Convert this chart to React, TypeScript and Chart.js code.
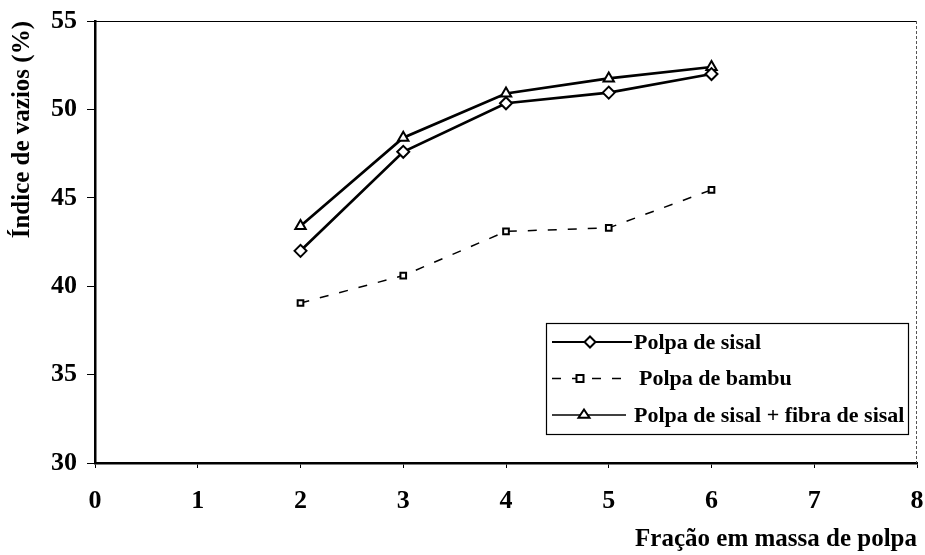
import React, { useEffect, useRef } from "react";
import { Chart, registerables } from "chart.js";

Chart.register(...registerables);

const fractions = [2, 3, 4, 5, 6];
const polpaSisal = [42.0, 47.6, 50.35, 50.95, 52.0];
const polpaBambu = [39.05, 40.6, 43.1, 43.3, 45.45];
const polpaSisalFibra = [43.4, 48.4, 50.9, 51.75, 52.4];
const seriesLabels = ["Polpa de sisal", "Polpa de bambu", "Polpa de sisal + fibra de sisal"];
const xTickValues = [0, 1, 2, 3, 4, 5, 6, 7, 8];
const yTickValues = [30, 35, 40, 45, 50, 55];
const xTitle = "Fração em massa de polpa";
const yTitle = "Índice de vazios (%)";

const SERIF = "'Liberation Serif', 'Times New Roman', serif";

function drawMarker(ctx: CanvasRenderingContext2D, style: string, x: number, y: number, r: number) {
  ctx.beginPath();
  if (style === "rectRot") {
    ctx.moveTo(x, y - r);
    ctx.lineTo(x + r, y);
    ctx.lineTo(x, y + r);
    ctx.lineTo(x - r, y);
    ctx.closePath();
  } else if (style === "rect") {
    ctx.rect(x - r, y - r, 2 * r, 2 * r);
  } else {
    const h = r * 1.5;
    ctx.moveTo(x, y - h * 0.66);
    ctx.lineTo(x + r, y + h * 0.34);
    ctx.lineTo(x - r, y + h * 0.34);
    ctx.closePath();
  }
  ctx.fillStyle = "#fff";
  ctx.fill();
  ctx.lineWidth = 2;
  ctx.setLineDash([]);
  ctx.strokeStyle = "#000";
  ctx.stroke();
}

const framePlugin = {
  id: "frameAndLegend",
  afterDraw(chart: any) {
    const ctx = chart.ctx as CanvasRenderingContext2D;
    const a = chart.chartArea;
    ctx.save();
    // top and right frame
    ctx.strokeStyle = "#000";
    ctx.lineWidth = 1.2;
    ctx.beginPath();
    ctx.moveTo(a.left, a.top + 0.5);
    ctx.lineTo(a.right, a.top + 0.5);
    ctx.stroke();
    ctx.strokeStyle = "#555";
    ctx.lineWidth = 1;
    ctx.setLineDash([3, 2]);
    ctx.beginPath();
    ctx.moveTo(a.right - 0.5, a.top);
    ctx.lineTo(a.right - 0.5, a.bottom);
    ctx.stroke();
    ctx.setLineDash([]);

    // legend box
    const right = a.right - 9;
    const bottom = a.bottom - 29;
    const width = 362;
    const height = 111;
    const left = right - width;
    const top = bottom - height;
    ctx.fillStyle = "#fff";
    ctx.fillRect(left, top, width, height);
    ctx.strokeStyle = "#000";
    ctx.lineWidth = 1.2;
    ctx.strokeRect(left + 0.5, top + 0.5, width, height);

    const rows = [top + 19, top + 55.5, top + 92];
    const lineStart = [left + 6, left + 6, left + 6];
    const lineEnd = [left + 86, left + 80, left + 80];
    const markerX = [left + 44, left + 34, left + 38];
    const textX = [left + 88, left + 93, left + 88];
    chart.data.datasets.forEach((ds: any, i: number) => {
      const cy = rows[i];
      ctx.strokeStyle = "#000";
      ctx.lineWidth = i === 0 ? 2 : 1.5;
      ctx.setLineDash(ds.borderDash || []);
      ctx.beginPath();
      ctx.moveTo(lineStart[i], cy);
      ctx.lineTo(lineEnd[i], cy);
      ctx.stroke();
      ctx.setLineDash([]);
      drawMarker(ctx, ds.pointStyle, markerX[i], cy, ds.pointStyle === "rect" ? 3.5 : 5.5);
      ctx.fillStyle = "#000";
      ctx.font = `bold 22px ${SERIF}`;
      ctx.textBaseline = "middle";
      ctx.textAlign = "left";
      ctx.fillText(ds.label, textX[i], cy + 1);
    });
    ctx.restore();
  },
};

export default function App() {
  const ref = useRef<HTMLCanvasElement | null>(null);

  useEffect(() => {
    if (!ref.current) return;
    const toPts = (arr: number[]) => fractions.map((x, i) => ({ x, y: arr[i] }));
    const chart = new Chart(ref.current, {
      type: "line",
      data: {
        datasets: [
          {
            label: seriesLabels[0],
            data: toPts(polpaSisal),
            borderColor: "#000",
            borderWidth: 2.7,
            pointStyle: "rectRot",
            pointRadius: 6,
            pointBackgroundColor: "#fff",
            pointBorderColor: "#000",
            pointBorderWidth: 2,
            tension: 0,
          },
          {
            label: seriesLabels[1],
            data: toPts(polpaBambu),
            borderColor: "#000",
            borderWidth: 1.5,
            borderDash: [9, 11],
            pointStyle: "rect",
            pointRadius: 4,
            pointBackgroundColor: "#fff",
            pointBorderColor: "#000",
            pointBorderWidth: 2,
            tension: 0,
          },
          {
            label: seriesLabels[2],
            data: toPts(polpaSisalFibra),
            borderColor: "#000",
            borderWidth: 2.7,
            pointStyle: "triangle",
            pointRadius: 6,
            pointBackgroundColor: "#fff",
            pointBorderColor: "#000",
            pointBorderWidth: 2,
            tension: 0,
          },
        ],
      },
      options: {
        responsive: false,
        animation: false,
        devicePixelRatio: 1,
        layout: { padding: { top: 21, right: 6, bottom: 0, left: 0 } },
        plugins: {
          legend: { display: false },
          tooltip: { enabled: false },
        },
        scales: {
          x: {
            type: "linear",
            min: 0,
            max: 8,
            afterBuildTicks: (s: any) => {
              s.ticks = xTickValues.map((v) => ({ value: v }));
            },
            afterFit: (s: any) => {
              s.height = 92;
              s.paddingRight = 0;
              s.paddingLeft = 0;
            },
            ticks: {
              color: "#000",
              padding: 18,
              font: { family: SERIF, size: 26, weight: "bold" },
            },
            grid: {
              drawOnChartArea: false,
              drawTicks: true,
              tickLength: 5,
              color: "#000",
            },
            border: { display: true, color: "#000", width: 2.5 },
            title: {
              display: true,
              text: xTitle,
              align: "end",
              color: "#000",
              padding: { top: 0, bottom: 0 },
              font: { family: SERIF, size: 25, weight: "bold" },
            },
          },
          y: {
            type: "linear",
            min: 30,
            max: 55,
            afterBuildTicks: (s: any) => {
              s.ticks = yTickValues.map((v) => ({ value: v }));
            },
            afterFit: (s: any) => {
              s.width = 95;
              s.paddingTop = 0;
              s.paddingBottom = 0;
            },
            ticks: {
              color: "#000",
              padding: 10,
              font: { family: SERIF, size: 26, weight: "bold" },
            },
            grid: {
              drawOnChartArea: false,
              drawTicks: true,
              tickLength: 8,
              color: "#000",
            },
            border: { display: true, color: "#000", width: 2.5 },
            title: {
              display: true,
              text: yTitle,
              align: "end",
              color: "#000",
              padding: { top: 8, bottom: 0 },
              font: { family: SERIF, size: 25, weight: "bold" },
            },
          },
        },
      },
      plugins: [framePlugin],
    } as any);
    return () => chart.destroy();
  }, []);

  return (
    <div style={{ position: "fixed", left: 0, top: 0, width: 925, height: 555, background: "#fff" }}>
      <canvas ref={ref} width={925} height={555} style={{ display: "block" }} />
    </div>
  );
}
